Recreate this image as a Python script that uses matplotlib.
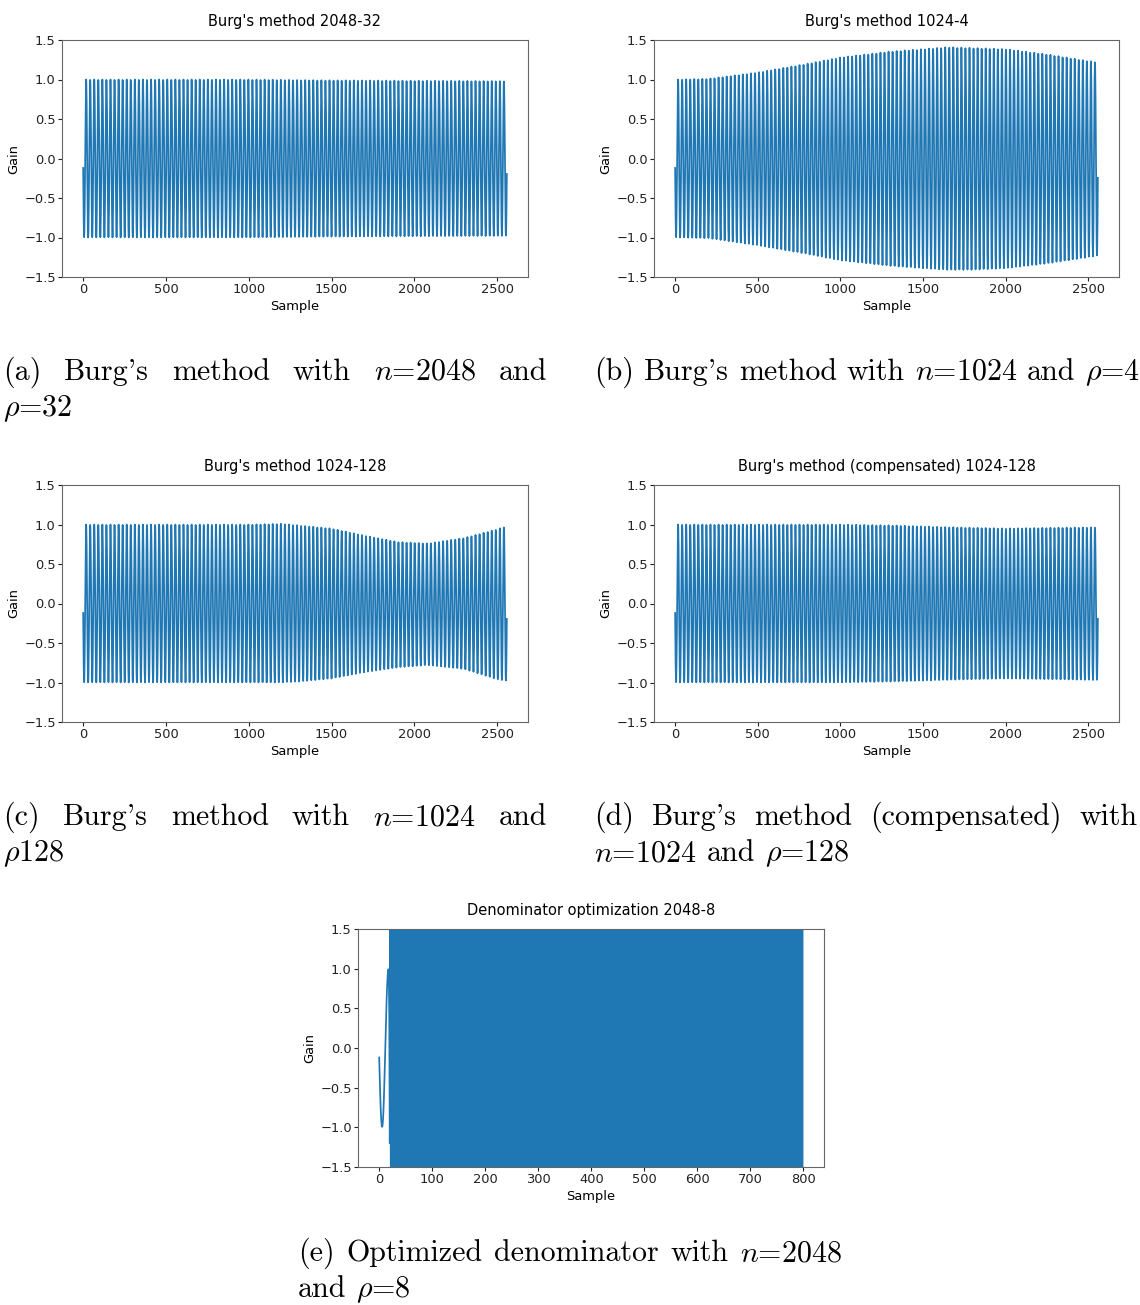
import numpy as np
import matplotlib
matplotlib.use("Agg")
import matplotlib.pyplot as plt

plt.rcParams['mathtext.fontset'] = 'cm'
plt.rcParams['font.size'] = 9.4

W, H = 1140, 1305

# test tone, shared by every run
N_SAMPLES = 2560
PERIOD = 24.5
PHASE = 0.12

# envelope: sample positions, upper and lower peak
a_knots = [0, 500, 1000, 1500, 2000, 2559]
a_top = [1.0, 1.0, 1.0, 0.99, 0.985, 0.98]
a_bot = [-1.0, -1.0, -1.0, -0.99, -0.985, -0.98]

b_knots = [0, 200, 500, 800, 1000, 1300, 1500, 1650, 1800, 2000, 2250, 2500, 2559]
b_top = [1.0, 1.01, 1.09, 1.2, 1.28, 1.355, 1.385, 1.41, 1.40, 1.385, 1.32, 1.235, 1.22]
b_bot = [-1.0, -1.01, -1.10, -1.21, -1.29, -1.36, -1.39, -1.41, -1.41, -1.39, -1.33, -1.25, -1.23]

c_knots = [0, 500, 1000, 1200, 1300, 1500, 1700, 1900, 2080, 2300, 2500, 2559]
c_top = [1.0, 1.0, 1.0, 1.01, 0.99, 0.95, 0.86, 0.78, 0.76, 0.83, 0.94, 0.98]
c_bot = [-1.0, -1.0, -1.0, -1.0, -0.99, -0.95, -0.87, -0.81, -0.78, -0.83, -0.96, -0.98]

d_knots = [0, 500, 1000, 1300, 1600, 2000, 2300, 2559]
d_top = [1.0, 1.0, 1.0, 0.99, 0.97, 0.95, 0.96, 0.965]
d_bot = [-1.0, -1.0, -1.0, -0.99, -0.97, -0.95, -0.96, -0.97]

# optimized denominator: stable for the first samples, then blows up
e_len = 800
e_stable = 19
e_knots = [19, 20, 21, 40, 100, 300, 799]
e_amp = [0.55, 1.2, 2.0, 5.0, 50.0, 1e3, 1e5]

titles = ["Burg's method 2048-32", "Burg's method 1024-4", "Burg's method 1024-128",
          "Burg's method (compensated) 1024-128", "Denominator optimization 2048-8"]

# caption lines: words, and whether the line is stretched to the full width
captions = [
    [(["(a)", "Burg's", "method", "with", "$n$=2048", "and"], True), (["$\\rho$=32"], False)],
    [(["(b)", "Burg's", "method", "with", "$n$=1024", "and", "$\\rho$=4"], False)],
    [(["(c)", "Burg's", "method", "with", "$n$=1024", "and"], True), (["$\\rho$128"], False)],
    [(["(d)", "Burg's", "method", "(compensated)", "with"], True), (["$n$=1024", "and", "$\\rho$=128"], False)],
    [(["(e)", "Optimized", "denominator", "with", "$n$=2048"], True), (["and", "$\\rho$=8"], False)],
]


def tone(knots, top, bot):
    n = np.arange(N_SAMPLES)
    s = -np.sin(2 * np.pi * n / PERIOD + PHASE)
    up = np.interp(n, knots, top)
    lo = np.interp(n, knots, bot)
    return n, np.where(s > 0, s * up, -s * lo)


def blowup():
    n = np.arange(e_len)
    y = -np.sin(2 * np.pi * n / 24.0 + PHASE)
    tail = n >= e_stable
    sign = np.where(n % 2 == 0, -1.0, 1.0)
    y[tail] = sign[tail] * np.interp(n[tail], e_knots, e_amp)
    y[e_stable] = 0.45
    return n, y


series = [tone(a_knots, a_top, a_bot), tone(b_knots, b_top, b_bot),
          tone(c_knots, c_top, c_bot), tone(d_knots, d_top, d_bot), blowup()]

# axes boxes in pixels: left, top, right, bottom
boxes = [(62, 40, 528, 277), (654, 40, 1119, 277),
         (62, 485, 528, 722), (654, 485, 1119, 722),
         (358, 929, 824, 1167)]

fig = plt.figure(figsize=(W / 100, H / 100), dpi=100)

for (x, y), title, (l, t, r, b) in zip(series, titles, boxes):
    ax = fig.add_axes([l / W, 1 - b / H, (r - l) / W, (b - t) / H])
    ax.plot(x, y, color='#1f77b4', lw=1.25)
    ax.set_ylim(-1.5, 1.5)
    ax.set_yticks(np.arange(-1.5, 1.51, 0.5))
    ax.set_title(title, fontsize=10.5, pad=10)
    ax.set_xlabel("Sample", labelpad=3)
    ax.set_ylabel("Gain", labelpad=3)
    for sp in ax.spines.values():
        sp.set_color('#666666')
    ax.tick_params(colors='#222222', length=3, pad=1.5)

renderer = fig.canvas.get_renderer()
CAP_SIZE = 21.6
LINE_GAP = 36
cap_pos = [(3, 547, 380), (594, 1137, 380), (3, 547, 825), (594, 1137, 825), (298, 842, 1261)]


def place_caption(lines, x0, x1, y0):
    space = 0.333 * CAP_SIZE * 100 / 72
    for i, (words, justify) in enumerate(lines):
        y = 1 - (y0 + i * LINE_GAP) / H
        texts = [fig.text(0, y, w, fontsize=CAP_SIZE, family='cmr10', va='baseline')
                 for w in words]
        widths = [t.get_window_extent(renderer).width for t in texts]
        gap = (x1 - x0 - sum(widths)) / (len(words) - 1) if justify else space
        pos = x0
        for t, w in zip(texts, widths):
            t.set_x(pos / W)
            pos += w + gap


for lines, (x0, x1, y0) in zip(captions, cap_pos):
    place_caption(lines, x0, x1, y0)

fig.savefig("out.png", dpi=100)
